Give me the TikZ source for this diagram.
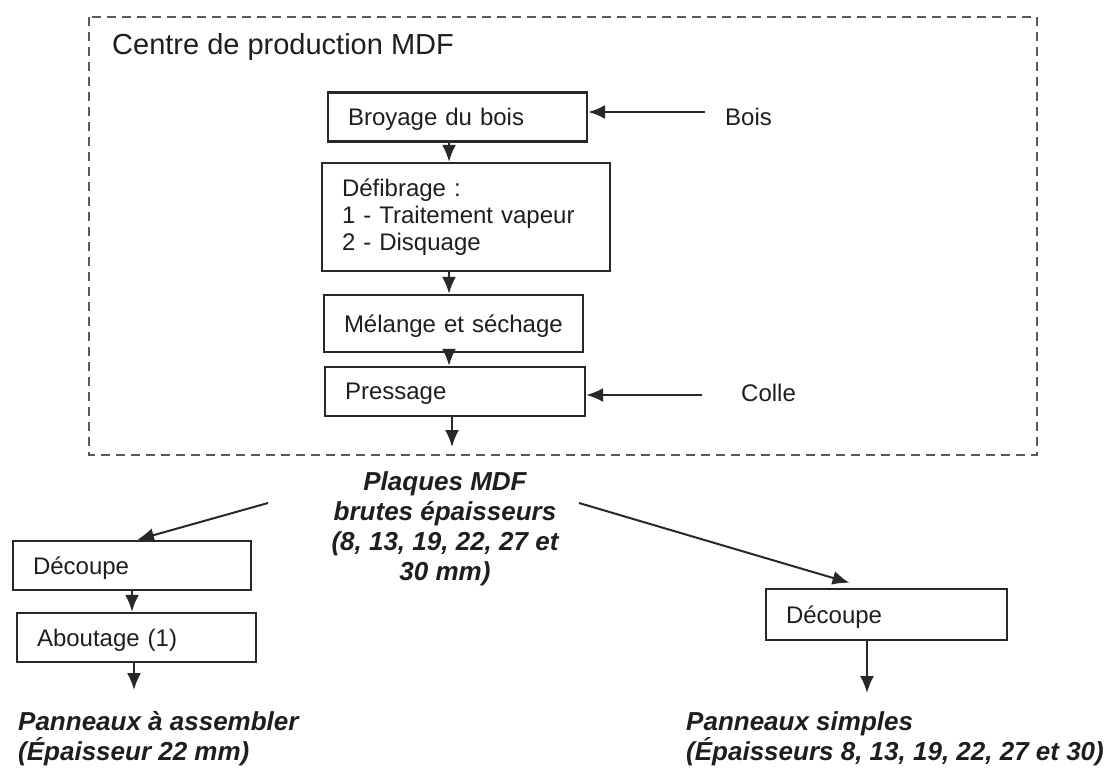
\documentclass[tikz,border=0pt]{standalone}
\usepackage{fontspec}
\setmainfont{Liberation Sans}
\usepackage{tikz}
\usetikzlibrary{arrows.meta}
\definecolor{linegray}{RGB}{40,40,40}
\definecolor{dashgray}{RGB}{90,90,90}
\definecolor{textgray}{RGB}{30,30,30}

\begin{document}
\begin{tikzpicture}[
    x=1pt, y=-1pt,
    font=\fontsize{24}{27}\selectfont,
    text=textgray,
    box/.style={
        rectangle,
        draw=linegray,
        line width=2.4pt,
        inner xsep=20pt,
        inner ysep=4pt,
        align=left
    },
    oneline/.style={box, text depth=0pt},
    flow/.style={-{Latex[length=17pt,width=14pt]}, draw=linegray, line width=2pt},
    product/.style={
        font=\fontsize{26}{30}\selectfont\bfseries\itshape,
        inner sep=0pt
    },
    input/.style={anchor=base west, inner sep=0pt}
]
\useasboundingbox (0,0) rectangle (1115,773);

% Centre de production
\draw[dashgray, line width=2.2pt, dash pattern=on 9pt off 6pt] (89,17) rectangle (1037,455);
\node[anchor=base west, inner sep=0pt, font=\fontsize{29}{34}\selectfont] (centre) at (112,55) {Centre de production MDF};

% Production steps
\node[oneline, text width=219pt, minimum height=49pt] (broyage) at (457.5,117) {Broyage du bois};
\node[box, text width=248pt, minimum height=108pt] (defibrage) at (466,217) {Défibrage :\\1 - Traitement vapeur\\2 - Disquage};
\node[oneline, text width=219pt, minimum height=57pt] (melange) at (453.5,323.5) {Mélange et séchage};
\node[oneline, text width=220pt, minimum height=49pt] (pressage) at (455,391.5) {Pressage};

% Inputs
\node[input] (bois) at (725,125) {Bois};
\node[input] (colle) at (741,401) {Colle};
\coordinate (boisin) at (705,112);
\coordinate (collein) at (702,395);
\draw[flow] (boisin) -- (boisin -| broyage.east);
\draw[flow] (collein) -- (collein -| pressage.east);

% Flow inside the centre
\coordinate (axis) at (449,0);
\coordinate (sortie) at (452,447);
\draw[flow] (broyage.south -| axis) -- (defibrage.north -| axis);
\draw[flow] (defibrage.south -| axis) -- (melange.north -| axis);
\draw[flow] (melange.south -| axis) -- (pressage.north -| axis);
\draw[flow] (pressage.south -| sortie) -- (sortie);

% Raw boards
\node[product, align=center] (plaques) at (445,529) {Plaques MDF\\brutes épaisseurs\\(8, 13, 19, 22, 27 et\\30 mm)};

% Cutting steps
\node[oneline, text width=198pt, minimum height=49pt] (decoupeA) at (132,565.5) {Découpe};
\node[oneline, text width=199pt, minimum height=49pt] (aboutage) at (136.5,637.5) {Aboutage (1)};
\node[oneline, text width=201pt, minimum height=51pt] (decoupeB) at (886.5,614.5) {Découpe};

% Split of the raw boards
\coordinate (splitA) at (268,503);
\coordinate (splitB) at (579,503);
\draw[flow] (splitA) -- ([xshift=5pt]decoupeA.north);
\draw[flow] (splitB) -- ([xshift=-37pt,yshift=5pt]decoupeB.north);

% Cutting lines
\coordinate (finA) at (134,690);
\coordinate (finB) at (867,693);
\draw[flow] (decoupeA.south) -- (decoupeA.south |- aboutage.north);
\draw[flow] (aboutage.south -| finA) -- (finA);
\draw[flow] (decoupeB.south -| finB) -- (finB);

% Products
\node[product, anchor=west, align=left] (assembler) at (18,739) {Panneaux à assembler\\(Épaisseur 22 mm)};
\node[product, anchor=west, align=left] (simples) at (686,739) {Panneaux simples\\(Épaisseurs 8, 13, 19, 22, 27 et 30)};

\end{tikzpicture}
\end{document}
